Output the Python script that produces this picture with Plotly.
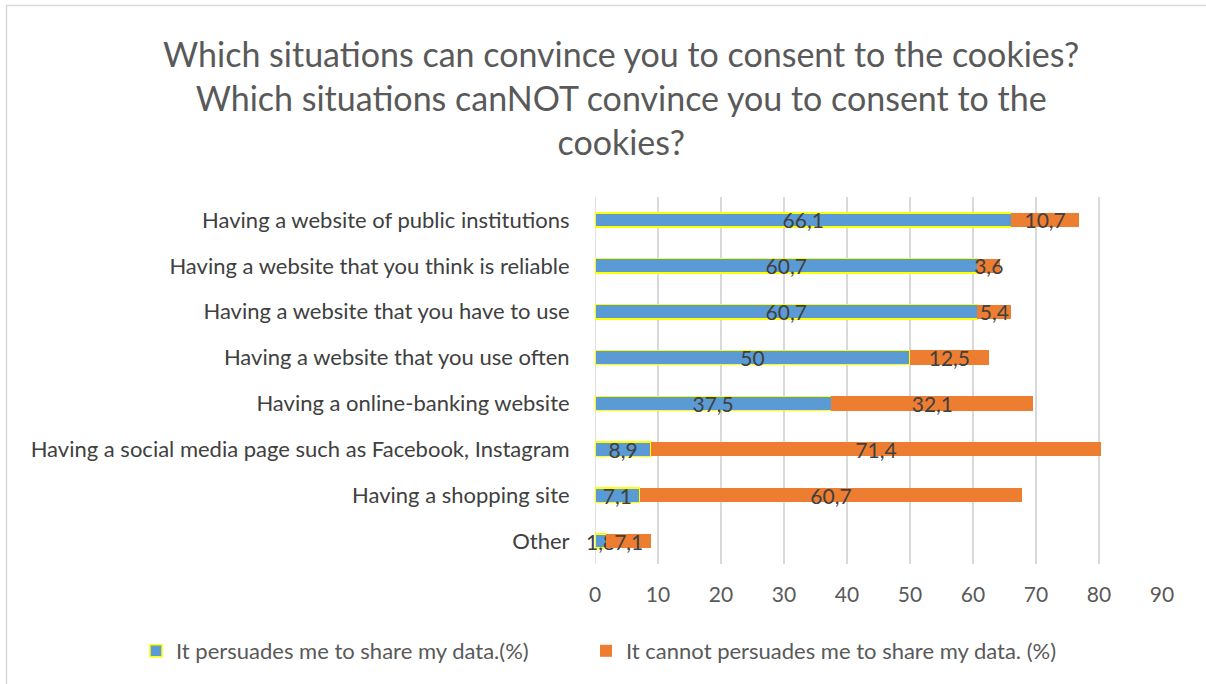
import plotly.graph_objects as go

categories = [
    "Having a website of public institutions",
    "Having a website that you think is reliable",
    "Having a website that you have to use",
    "Having a website that you use often",
    "Having a online-banking website",
    "Having a social media page such as Facebook, Instagram",
    "Having a shopping site",
    "Other",
]
persuades = [66.1, 60.7, 60.7, 50, 37.5, 8.9, 7.1, 1.8]
cannot = [10.7, 3.6, 5.4, 12.5, 32.1, 71.4, 60.7, 7.1]
x_ticks = [0, 10, 20, 30, 40, 50, 60, 70, 80, 90]
title_text = ("Which situations can convince you to consent to the cookies?<br>"
              "Which situations canNOT convince you to consent to the<br>cookies?")

def fmt(v):
    return ("%g" % v).replace(".", ",")

FONT = "Lato"
cats = categories[::-1]
L, R, T, B = 595, 44, 197, 120
PW, PH = 1206 - L - R, 684 - T - B

def px(x):
    return (x - L) / PW

def py(y):
    return 1 - (y - T) / PH

fig = go.Figure()
fig.add_trace(go.Bar(
    y=cats, x=persuades[::-1], orientation="h",
    name="It persuades me to share my data.(%)",
    marker=dict(color="#5B9BD5", line=dict(color="#FFFF00", width=1.5)),
    text=[fmt(v) for v in persuades[::-1]], textposition="inside",
    insidetextanchor="middle", constraintext="none", textangle=0,
    textfont=dict(size=21, color="#404040", family=FONT),
    cliponaxis=False, legend="legend",
))
fig.add_trace(go.Bar(
    y=cats, x=cannot[::-1], orientation="h",
    name="It cannot persuades me to share my data. (%)",
    marker=dict(color="#ED7D31", line=dict(width=0)),
    text=[fmt(v) for v in cannot[::-1]], textposition="inside",
    insidetextanchor="middle", constraintext="none", textangle=0,
    textfont=dict(size=21, color="#404040", family=FONT),
    cliponaxis=False, legend="legend2",
))

leg_font = dict(size=22, color="#595959", family=FONT)
fig.update_layout(
    barmode="stack",
    bargap=0.69,
    width=1206, height=684,
    margin=dict(l=L, r=R, t=T, b=B),
    paper_bgcolor="white", plot_bgcolor="white",
    font=dict(family=FONT, color="#595959"),
    uniformtext=dict(mode=False),
    xaxis=dict(
        range=[0, 90], tickvals=x_ticks, showgrid=True, gridcolor="#D9D9D9", gridwidth=1.5,
        zeroline=False, showline=False, ticks="outside", ticklen=12, tickcolor="rgba(0,0,0,0)",
        tickfont=dict(size=21, color="#595959", family=FONT),
    ),
    yaxis=dict(
        showgrid=False, zeroline=False, showline=False, ticks="outside", ticklen=20,
        tickcolor="rgba(0,0,0,0)", tickfont=dict(size=22, color="#404040", family=FONT),
    ),
    legend=dict(
        orientation="h", x=px(136), xanchor="left", y=py(651), yanchor="middle",
        font=leg_font,
    ),
    legend2=dict(
        orientation="h", x=px(586), xanchor="left", y=py(651), yanchor="middle",
        font=leg_font,
    ),
    showlegend=True,
)
fig.add_annotation(
    text=title_text, xref="paper", yref="paper", x=px(621), y=py(31),
    xanchor="center", yanchor="top", showarrow=False, align="center",
    font=dict(size=34, color="#595959", family=FONT),
)
fig.add_shape(type="line", xref="x", yref="paper", x0=0, x1=0, y0=0, y1=1,
              line=dict(color="#D9D9D9", width=1.5), layer="below")
# outer border (top and left)
fig.add_shape(type="line", xref="paper", yref="paper", x0=px(6), x1=px(1206), y0=py(5.5), y1=py(5.5),
              line=dict(color="#D9D9D9", width=1.5))
fig.add_shape(type="line", xref="paper", yref="paper", x0=px(6.5), x1=px(6.5), y0=py(5), y1=py(684),
              line=dict(color="#D9D9D9", width=1.5))

fig.write_html("out.html")
